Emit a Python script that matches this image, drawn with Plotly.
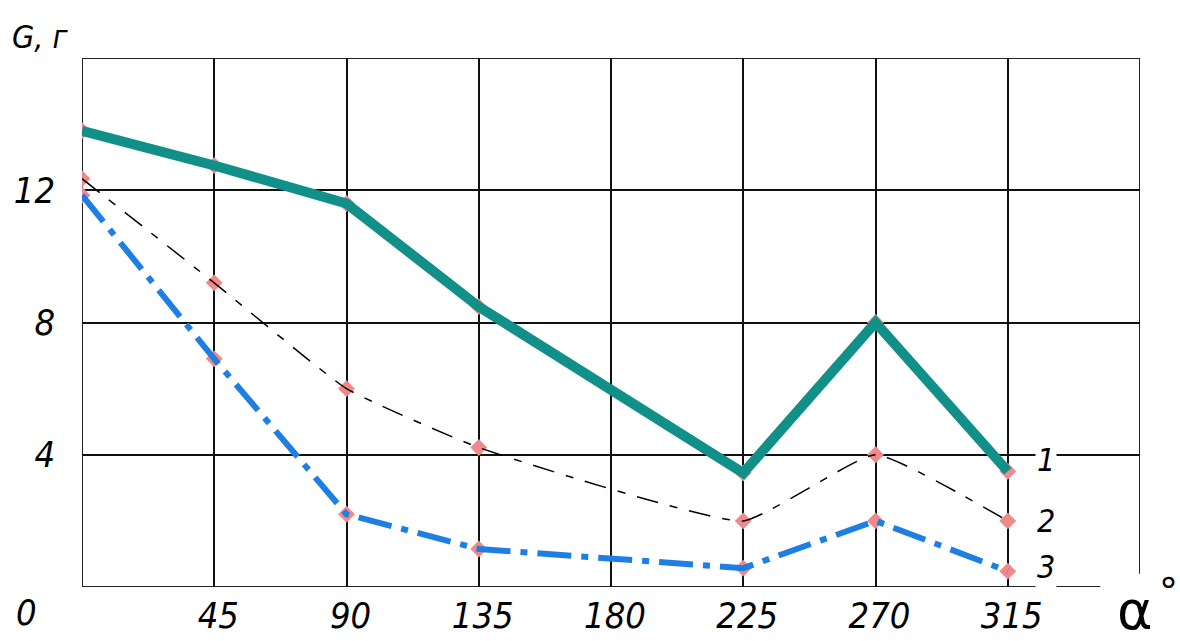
import plotly.graph_objects as go

angles = [0, 45, 90, 135, 225, 270, 315]
series1 = [13.8, 12.75, 11.6, 8.48, 3.45, 8.0, 3.5]
series2 = [12.35, 9.2, 6.0, 4.22, 2.0, 4.0, 2.0]
series3 = [11.85, 6.9, 2.2, 1.15, 0.57, 2.0, 0.48]
x_ticks = [45, 90, 135, 180, 225, 270, 315]
y_ticks = [4, 8, 12]
curve_labels = ["1", "2", "3"]
label_pos = [(328, 3.84), (328, 2.0), (328, 0.6)]

FONT = "DejaVu Sans Condensed, Liberation Sans Narrow, sans-serif"
TEAL = "#11908A"
BLUE = "#1E7FE3"
PINK = "#F08A8A"

fig = go.Figure()

# markers underneath lines
for ys in (series1, series2, series3):
    fig.add_trace(go.Scatter(x=angles, y=ys, mode="markers",
                             marker=dict(symbol="diamond", size=13, color=PINK),
                             hoverinfo="skip", showlegend=False))

fig.add_trace(go.Scatter(x=angles, y=series2, mode="lines",
                         line=dict(color="black", width=1.5, dash="22px,12px,8px,12px",
                                   shape="spline", smoothing=0.4),
                         showlegend=False))
fig.add_trace(go.Scatter(x=angles, y=series3, mode="lines",
                         line=dict(color=BLUE, width=6, dash="34px,10px,7px,10px"),
                         showlegend=False))
fig.add_trace(go.Scatter(x=angles, y=series1, mode="lines",
                         line=dict(color=TEAL, width=10),
                         showlegend=False))

# borders
line_style = dict(color="#222", width=2)
fig.add_shape(type="line", x0=0, x1=0, y0=0, y1=16, line=line_style, layer="below")
fig.add_shape(type="line", x0=0, x1=360, y0=16, y1=16, line=line_style, layer="below")
fig.add_shape(type="line", x0=360, x1=360, y0=0.4, y1=16, line=line_style, layer="below")
fig.add_shape(type="line", x0=0, x1=346.5, y0=0, y1=0, line=line_style, layer="below")

for txt, (lx, ly) in zip(curve_labels, label_pos):
    fig.add_annotation(x=lx, y=ly, text=txt, showarrow=False, bgcolor="white",
                       font=dict(family=FONT, size=32, style="italic", color="black"))

fig.add_annotation(xref="paper", yref="paper", x=-0.052, y=-0.049, text="0",
                   showarrow=False, xanchor="center", yanchor="middle",
                   font=dict(family=FONT, size=36, style="italic", color="black"))
fig.add_annotation(xref="paper", yref="paper", x=-0.068, y=1.04, text="G, г",
                   showarrow=False, xanchor="left", yanchor="middle",
                   font=dict(family=FONT, size=32, style="italic", color="black"))
fig.add_annotation(xref="paper", yref="paper", x=0.995, y=-0.045, text="α",
                   showarrow=False, xanchor="center", yanchor="middle",
                   font=dict(family="DejaVu Sans", size=54, color="black"))
fig.add_annotation(xref="paper", yref="paper", x=1.027, y=-0.008, text="°",
                   showarrow=False, xanchor="center", yanchor="middle",
                   font=dict(family="DejaVu Sans", size=38, color="black"))

fig.update_layout(
    width=1180, height=641,
    margin=dict(l=82, r=40, t=58, b=54),
    paper_bgcolor="white", plot_bgcolor="white",
    showlegend=False,
    xaxis=dict(range=[0, 360], tickvals=x_ticks, ticktext=[str(v) for v in x_ticks],
               showgrid=True, gridcolor="#111", gridwidth=1.5, zeroline=False,
               showline=False, ticks="", ticklabelstandoff=4, ticklabelshift=4,
               automargin=False,
               tickfont=dict(family=FONT, size=36, style="italic", color="black")),
    yaxis=dict(range=[0, 16], tickvals=y_ticks, ticktext=[str(v) for v in y_ticks],
               showgrid=True, gridcolor="#111", gridwidth=1.5, zeroline=False,
               showline=False, ticks="", ticklabelstandoff=26, automargin=False,
               tickfont=dict(family=FONT, size=36, style="italic", color="black")),
)

fig.write_html("out.html", config={"displayModeBar": False},
               post_script="document.body.style.margin='0';document.body.style.overflow='hidden';")
